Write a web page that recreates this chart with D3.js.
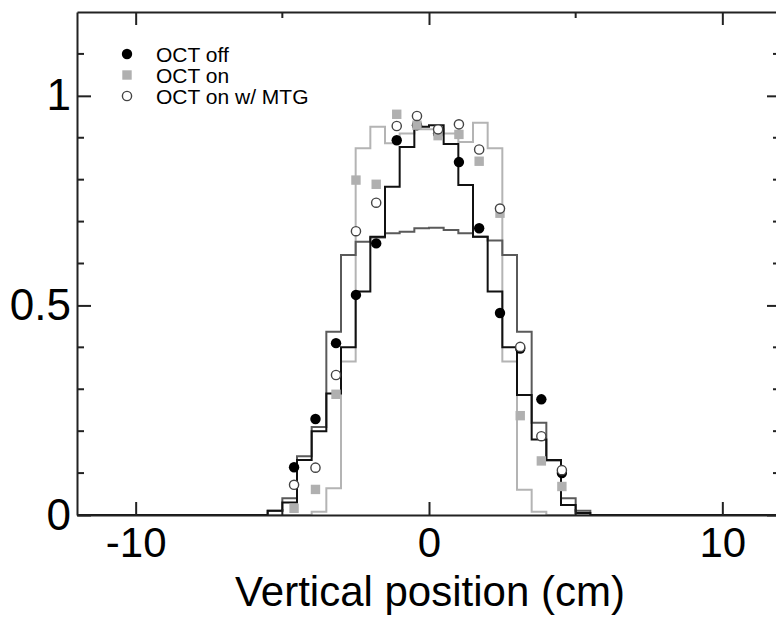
<!DOCTYPE html>
<html>
<head>
<meta charset="utf-8">
<script src="https://cdn.jsdelivr.net/npm/d3@7"></script>
<style>
body { margin: 0; background: #fff; }
text { font-family: "Liberation Sans", Arial, sans-serif; }
</style>
</head>
<body>
<div id="chart"></div>
<script>
// bin edges of the step curves (cm)
var binEdges = [-5.5,-5,-4.5,-4,-3.5,-3,-2.5,-2,-1.5,-1,-0.5,0,0.5,1,1.5,2,2.5,3,3.5,4,4.5,5,5.5];

// step curves, one value per bin
var stepBlack = [0.01,0.03,0.131,0.20,0.29,0.40,0.533,0.664,0.783,0.878,0.926,0.93,0.885,0.787,0.664,0.533,0.40,0.286,0.18,0.131,0.024,0.005];
var stepDark  = [0.01,0.04,0.14,0.21,0.437,0.62,0.652,0.662,0.672,0.676,0.684,0.685,0.68,0.672,0.664,0.655,0.62,0.437,0.22,0.13,0.04,0.01];
var stepLight = [0,0,0,0.008,0.064,0.366,0.875,0.926,0.887,0.91,0.92,0.92,0.91,0.89,0.936,0.875,0.366,0.06,0.008,0,0,0];

// measured points
var ptX = [-4.6,-3.87,-3.17,-2.49,-1.8,-1.1,-0.41,0.31,1.02,1.71,2.42,3.11,3.83,4.53];
var octOff = [0.114,0.229,0.41,0.525,0.648,0.894,0.93,0.91,0.842,0.684,0.482,0.397,0.276,0.10];
var octOn  = [0.016,0.061,0.288,0.799,0.789,0.956,0.93,0.905,0.908,0.844,0.72,0.237,0.129,0.068];
var octMtg = [0.072,0.113,0.334,0.677,0.745,0.928,0.952,0.92,0.932,0.872,0.731,0.401,0.188,0.107];

var xTicks = [-10, 0, 10];
var xMinor = [-5, 5];
var yTicks = [0, 0.5, 1];
var yMinor = [0.1,0.2,0.3,0.4,0.6,0.7,0.8,0.9,1.1];

var legendNames = ["OCT off", "OCT on", "OCT on w/ MTG"];

var W = 776, H = 617;
var margin = {top: 12, left: 77, right: -5, bottom: 102};

var svg = d3.select("#chart").append("svg")
    .attr("width", W)
    .attr("height", H);

var x = d3.scaleLinear().domain([-12, 12]).range([margin.left, W - margin.right]);
var y = d3.scaleLinear().domain([0, 1.2]).range([H - margin.bottom, margin.top]);

svg.append("clipPath").attr("id", "clip")
    .append("rect")
    .attr("x", x(-12)).attr("y", y(1.2))
    .attr("width", x(12) - x(-12)).attr("height", y(0) - y(1.2));

// build step points from the bins
function stepPoints(vals) {
    var pts = [[-12, 0]];
    for (var i = 0; i < vals.length; i++) {
        pts.push([binEdges[i], vals[i]]);
    }
    pts.push([binEdges[binEdges.length - 1], 0]);
    pts.push([12, 0]);
    return pts;
}

var line = d3.line()
    .x(function(d) { return x(d[0]); })
    .y(function(d) { return y(d[1]); })
    .curve(d3.curveStepAfter);

var plot = svg.append("g").attr("clip-path", "url(#clip)");

plot.append("path").datum(stepPoints(stepLight))
    .attr("fill", "none").attr("stroke", "#b4b4b4").attr("stroke-width", 2)
    .attr("d", line);
plot.append("path").datum(stepPoints(stepDark))
    .attr("fill", "none").attr("stroke", "#5a5a5a").attr("stroke-width", 2)
    .attr("d", line);
plot.append("path").datum(stepPoints(stepBlack))
    .attr("fill", "none").attr("stroke", "#111").attr("stroke-width", 2)
    .attr("d", line);

// points
plot.selectAll(".off").data(ptX).enter().append("circle")
    .attr("cx", function(d) { return x(d); })
    .attr("cy", function(d, i) { return y(octOff[i]); })
    .attr("r", 5.2).attr("fill", "#000");

plot.selectAll(".on").data(ptX).enter().append("rect")
    .attr("x", function(d) { return x(d) - 4.7; })
    .attr("y", function(d, i) { return y(octOn[i]) - 4.7; })
    .attr("width", 9.4).attr("height", 9.4).attr("fill", "#b0b0b0");

plot.selectAll(".mtg").data(ptX).enter().append("circle")
    .attr("cx", function(d) { return x(d); })
    .attr("cy", function(d, i) { return y(octMtg[i]); })
    .attr("r", 4.6).attr("fill", "#fff").attr("stroke", "#444").attr("stroke-width", 1.4);

// axes
var axisColor = "#222";
function styleAxis(g, size) {
    g.select(".domain").attr("stroke", axisColor).attr("stroke-width", 2);
    g.selectAll(".tick line").attr("stroke", axisColor).attr("stroke-width", 2);
    g.selectAll("text").attr("fill", "#000").style("font-size", (size || 42) + "px")
        .style("font-family", "'Liberation Sans', Arial, sans-serif");
}

svg.append("g")
    .attr("transform", "translate(0," + y(0) + ")")
    .call(d3.axisBottom(x).tickValues(xTicks).tickSize(-13).tickPadding(12).tickSizeOuter(0)
        .tickFormat(function(d) { return String(d); }))
    .call(styleAxis, 42);

svg.append("g")
    .attr("transform", "translate(0," + y(1.2) + ")")
    .call(d3.axisTop(x).tickValues(xTicks).tickSize(-13).tickSizeOuter(0).tickFormat(""))
    .call(styleAxis);

svg.append("g")
    .attr("transform", "translate(" + x(-12) + ",0)")
    .call(d3.axisLeft(y).tickValues(yTicks).tickSize(-14).tickPadding(6).tickSizeOuter(0)
        .tickFormat(function(d) { return d === 0 || d === 1 ? d : d3.format(".1f")(d); }))
    .call(styleAxis, 44);

svg.append("g")
    .attr("transform", "translate(" + x(12) + ",0)")
    .call(d3.axisRight(y).tickValues(yTicks).tickSize(-14).tickSizeOuter(0).tickFormat(""))
    .call(styleAxis);

// minor ticks
var minor = svg.append("g").attr("stroke", axisColor).attr("stroke-width", 2);
minor.selectAll(".ml").data(yMinor).enter().append("line")
    .attr("x1", x(-12)).attr("x2", x(-12) + 7)
    .attr("y1", function(d) { return y(d); }).attr("y2", function(d) { return y(d); });
minor.selectAll(".mr").data(yMinor).enter().append("line")
    .attr("x1", x(12)).attr("x2", x(12) - 8)
    .attr("y1", function(d) { return y(d); }).attr("y2", function(d) { return y(d); });
minor.selectAll(".mt").data(xMinor).enter().append("line")
    .attr("x1", function(d) { return x(d); }).attr("x2", function(d) { return x(d); })
    .attr("y1", y(1.2)).attr("y2", y(1.2) + 6);
minor.selectAll(".mb").data(xMinor).enter().append("line")
    .attr("x1", function(d) { return x(d); }).attr("x2", function(d) { return x(d); })
    .attr("y1", y(0)).attr("y2", y(0) - 6);

// axis title
svg.append("text")
    .attr("x", (x(-12) + x(12)) / 2 + 1)
    .attr("y", 606)
    .attr("text-anchor", "middle")
    .style("font-size", "42px")
    .text("Vertical position (cm)");

// legend
var legend = svg.append("g").attr("transform", "translate(127,0)");
var rows = legend.selectAll("g").data(legendNames).enter().append("g")
    .attr("transform", function(d, i) { return "translate(0," + (54 + i * 21) + ")"; });
rows.append("text")
    .attr("x", 29).attr("y", 8)
    .style("font-size", "21px")
    .text(function(d) { return d; });
legend.append("circle").attr("cx", 0).attr("cy", 54).attr("r", 5.2).attr("fill", "#000");
legend.append("rect").attr("x", -4.7).attr("y", 75 - 4.7).attr("width", 9.4).attr("height", 9.4).attr("fill", "#b0b0b0");
legend.append("circle").attr("cx", 0).attr("cy", 96).attr("r", 4.6).attr("fill", "#fff")
    .attr("stroke", "#444").attr("stroke-width", 1.4);
</script>
</body>
</html>
